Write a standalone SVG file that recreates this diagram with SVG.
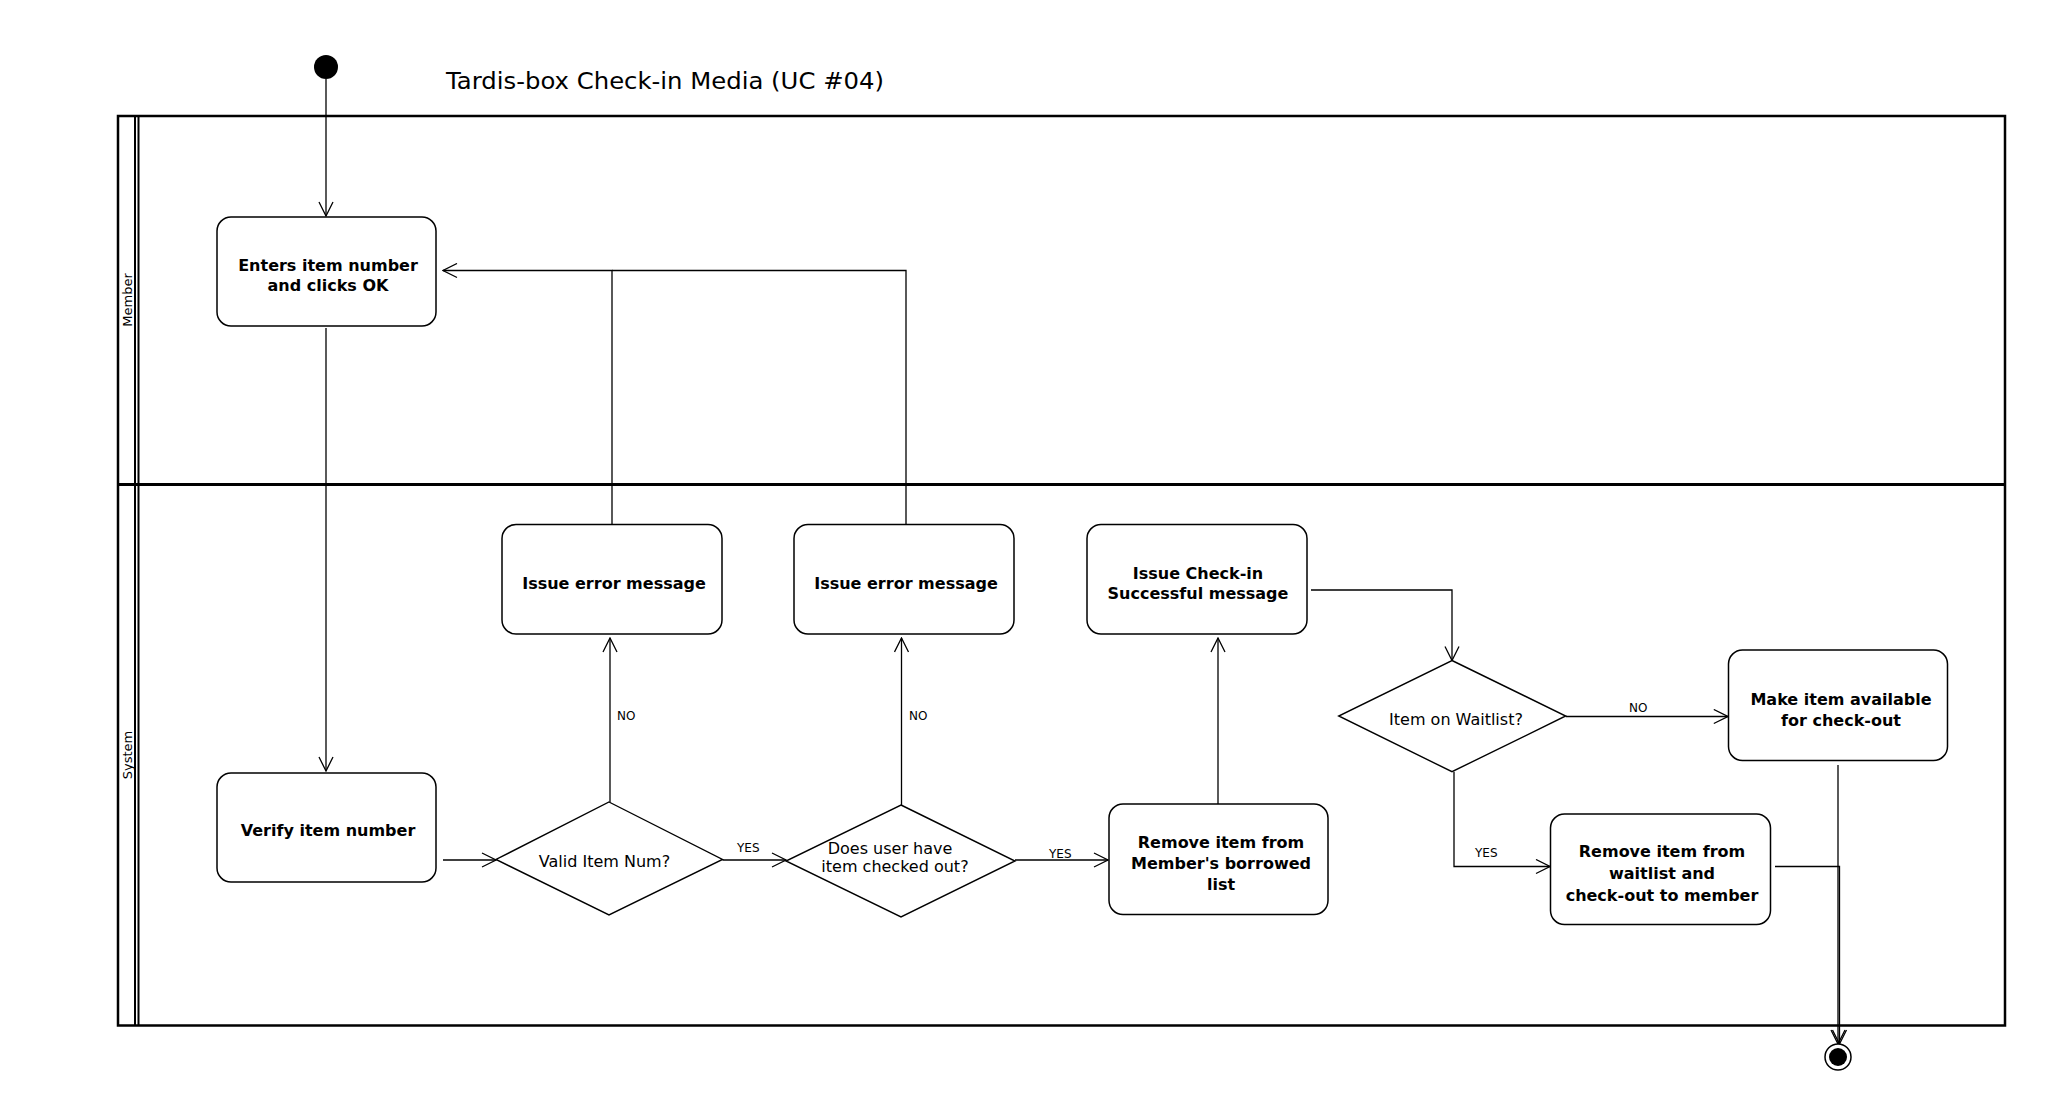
<svg xmlns="http://www.w3.org/2000/svg" width="2058" height="1100" viewBox="0 0 2058 1100">
<style>
.node rect{fill:#fff;stroke:#000;stroke-width:1.5}
.node polygon{fill:#fff;stroke:#000;stroke-width:1.4}
.bt{font-family:"DejaVu Sans","Liberation Sans",sans-serif;font-weight:bold;font-size:16px;text-anchor:middle;fill:#000}
.rt{font-family:"DejaVu Sans","Liberation Sans",sans-serif;font-size:16px;text-anchor:middle;fill:#000}
.lbl{font-family:"DejaVu Sans","Liberation Sans",sans-serif;font-size:12px;fill:#000}
.lane{font-family:"DejaVu Sans","Liberation Sans",sans-serif;font-size:13px;text-anchor:middle;fill:#000}
#connectors path{fill:none;stroke:#000;stroke-width:1.3}
.frame{fill:none;stroke:#000}
</style>
<defs>
<marker id="arr" viewBox="0 0 16 16" refX="15" refY="8" markerWidth="16" markerHeight="16" markerUnits="userSpaceOnUse" orient="auto">
<path d="M1,1 L15,8 L1,15" fill="none" stroke="#000" stroke-width="1.3"/>
</marker>
</defs>
<rect width="2058" height="1100" fill="#fff"/>

<g id="title">
<text x="446" y="89" font-family="DejaVu Sans, Liberation Sans, sans-serif" font-size="23" textLength="438" lengthAdjust="spacingAndGlyphs" fill="#000">Tardis-box Check-in Media (UC #04)</text>
</g>

<g id="swimlanes">
<rect class="frame" x="118" y="116" width="1887" height="909.5" stroke-width="2.5"/>
<line class="frame" x1="135" y1="116" x2="135" y2="1025.5" stroke-width="2"/>
<line class="frame" x1="138.5" y1="116" x2="138.5" y2="1025.5" stroke-width="2"/>
<line class="frame" x1="118" y1="484.5" x2="2005" y2="484.5" stroke-width="3"/>
<text class="lane" x="132" y="300" transform="rotate(-90 132 300)">Member</text>
<text class="lane" x="132" y="755" transform="rotate(-90 132 755)">System</text>
</g>

<g id="connectors">
<path d="M326,79 L326,216" marker-end="url(#arr)"/>
<path d="M326,328 L326,771" marker-end="url(#arr)"/>
<path d="M612,524.5 L612,270.5 L443,270.5" marker-end="url(#arr)"/>
<path d="M906,524.5 L906,270.5 L612,270.5"/>
<path d="M443,860 L496,860" marker-end="url(#arr)"/>
<path d="M610,802 L610,638" marker-end="url(#arr)"/>
<path d="M722.5,860 L786,860" marker-end="url(#arr)"/>
<path d="M901.5,805 L901.5,638" marker-end="url(#arr)"/>
<path d="M1015,860 L1108,860" marker-end="url(#arr)"/>
<path d="M1218,804 L1218,638" marker-end="url(#arr)"/>
<path d="M1311,590 L1452,590 L1452,660.5" marker-end="url(#arr)"/>
<path d="M1565.7,716.5 L1727.8,716.5" marker-end="url(#arr)"/>
<path d="M1454,771.7 L1454,866.5 L1550,866.5" marker-end="url(#arr)"/>
<path d="M1838,765 L1838,1044" marker-end="url(#arr)"/>
<path d="M1775,866.5 L1839.5,866.5 L1839.5,1044" marker-end="url(#arr)"/>
<text class="lbl" x="617" y="720">NO</text>
<text class="lbl" x="909" y="720">NO</text>
<text class="lbl" x="737" y="852">YES</text>
<text class="lbl" x="1049" y="858">YES</text>
<text class="lbl" x="1629" y="712">NO</text>
<text class="lbl" x="1475" y="857">YES</text>
</g>

<g id="start">
<circle cx="326" cy="67" r="12" fill="#000"/>
</g>

<g id="enters" class="node">
<rect x="217" y="217" width="219" height="109" rx="14"/>
<text class="bt" x="328" y="271">Enters item number</text>
<text class="bt" x="328" y="291">and clicks OK</text>
</g>

<g id="verify" class="node">
<rect x="217" y="773" width="219" height="109" rx="14"/>
<text class="bt" x="328" y="836">Verify item number</text>
</g>

<g id="error1" class="node">
<rect x="502" y="524.5" width="220" height="109.5" rx="14"/>
<text class="bt" x="614" y="589">Issue error message</text>
</g>

<g id="error2" class="node">
<rect x="794" y="524.5" width="220" height="109.5" rx="14"/>
<text class="bt" x="906" y="589">Issue error message</text>
</g>

<g id="checkin-msg" class="node">
<rect x="1087" y="524.5" width="220" height="109.5" rx="14"/>
<text class="bt" x="1198" y="579">Issue Check-in</text>
<text class="bt" x="1198" y="599">Successful message</text>
</g>

<g id="valid" class="node">
<polygon points="609,802 722.5,859.5 609,915 496,859.5"/>
<text class="rt" x="604.5" y="867">Valid Item Num?</text>
</g>

<g id="checked-out" class="node">
<polygon points="901,805 1015,861 901,917 786,861"/>
<text class="rt" x="890" y="854" font-size="15">Does user have</text>
<text class="rt" x="895" y="872" font-size="15">item checked out?</text>
</g>

<g id="remove-borrowed" class="node">
<rect x="1109" y="804" width="219" height="110.5" rx="14"/>
<text class="bt" x="1221" y="847.5">Remove item from</text>
<text class="bt" x="1221" y="869">Member's borrowed</text>
<text class="bt" x="1221" y="890">list</text>
</g>

<g id="waitlist" class="node">
<polygon points="1452,660.5 1565.7,716 1452,771.7 1338.7,716"/>
<text class="rt" x="1456" y="725">Item on Waitlist?</text>
</g>

<g id="make-available" class="node">
<rect x="1728.5" y="650" width="219" height="110.5" rx="14"/>
<text class="bt" x="1841" y="704.5">Make item available</text>
<text class="bt" x="1841" y="725.5">for check-out</text>
</g>

<g id="remove-waitlist" class="node">
<rect x="1550.5" y="814" width="220" height="110.5" rx="14"/>
<text class="bt" x="1662" y="857">Remove item from</text>
<text class="bt" x="1662" y="879">waitlist and</text>
<text class="bt" x="1662" y="901">check-out to member</text>
</g>

<g id="end">
<circle cx="1838" cy="1057" r="13" fill="#fff" stroke="#000" stroke-width="1.5"/>
<circle cx="1838" cy="1057" r="9" fill="#000"/>
</g>
</svg>
